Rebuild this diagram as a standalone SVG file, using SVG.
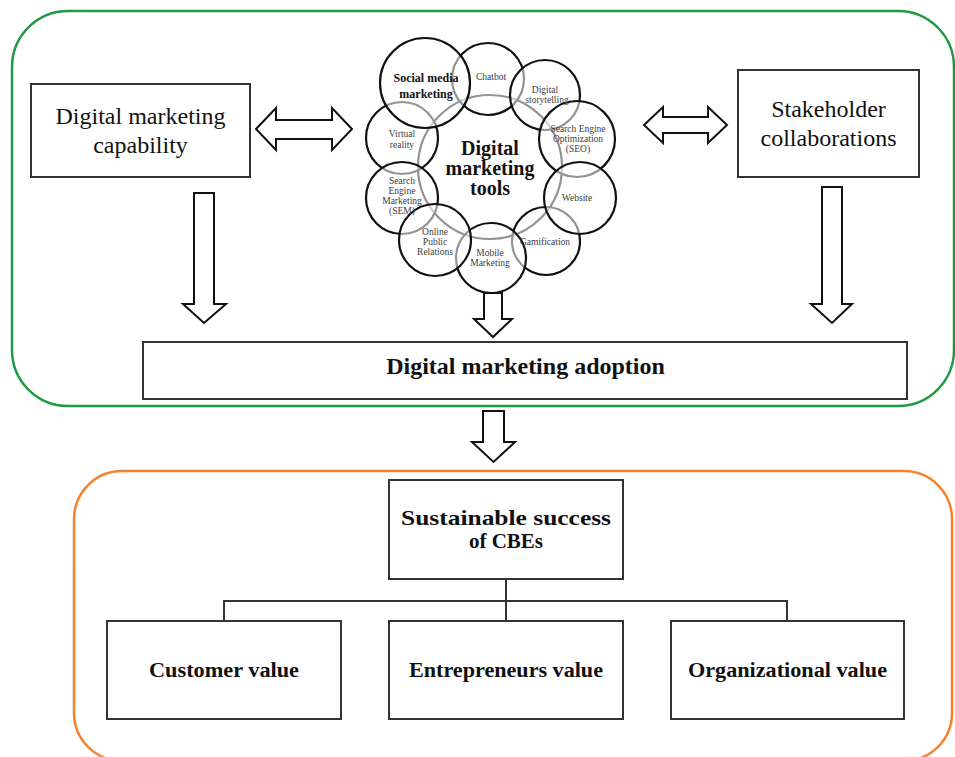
<svg xmlns="http://www.w3.org/2000/svg" width="955" height="757" viewBox="0 0 955 757">
  <style>
    .frame-green { fill: none; stroke: #1f9a40; stroke-width: 2.5; }
    .frame-orange { fill: none; stroke: #f5832e; stroke-width: 2.5; }
    .box { fill: #ffffff; stroke: #333333; stroke-width: 2; }
    .block-arrow { fill: #ffffff; stroke: #111111; stroke-width: 2; stroke-linejoin: miter; }
    .tree { fill: none; stroke: #333333; stroke-width: 2; }
    .label { font-family: "Liberation Serif", "Times New Roman", serif; fill: #111111; text-anchor: middle; }
    .big { font-size: 24px; }
    .bold { font-weight: bold; }
    .tool { fill: #ffffff; fill-opacity: 0.55; stroke: #111111; stroke-width: 2.2; }
    .hub { fill: none; stroke: #111111; stroke-width: 2.2; }
    .tool-text { font-family: "Liberation Serif", "Times New Roman", serif; font-size: 9.5px; fill: #3c3c3c; text-anchor: middle; }
  </style>

  <!-- outer frames -->
  <rect class="frame-green" x="12" y="11" width="942" height="395" rx="56" ry="56"/>
  <rect class="frame-orange" x="74" y="471" width="878" height="290" rx="48" ry="48"/>

  <!-- capability box -->
  <g id="capability">
    <rect class="box" x="31" y="84" width="219" height="93"/>
    <text class="label big" x="140.5" y="124">Digital marketing</text>
    <text class="label big" x="140.5" y="153">capability</text>
  </g>

  <!-- stakeholder box -->
  <g id="stakeholder">
    <rect class="box" x="738" y="70" width="181" height="107"/>
    <text class="label big" x="828.5" y="117">Stakeholder</text>
    <text class="label big" x="828.5" y="146">collaborations</text>
  </g>

  <!-- digital marketing tools cluster -->
  <g id="tools">
    <circle class="hub" cx="490" cy="167" r="72"/>
    <circle class="tool" cx="488" cy="79" r="36"/>
    <circle class="tool" cx="546" cy="241" r="34"/>
    <circle class="tool" cx="402" cy="138" r="36"/>
    <circle class="tool" cx="545" cy="95" r="35"/>
    <circle class="tool" cx="491" cy="258" r="35"/>
    <circle class="tool" cx="402" cy="198" r="36"/>
    <circle class="tool" cx="577" cy="139" r="38"/>
    <circle class="tool" cx="425" cy="83" r="45"/>
    <circle class="tool" cx="580" cy="198" r="36"/>
    <circle class="tool" cx="435" cy="240" r="36"/>

    <text class="label bold" x="490" y="155" font-size="20">Digital</text>
    <text class="label bold" x="490" y="175" font-size="20">marketing</text>
    <text class="label bold" x="490" y="195" font-size="20">tools</text>

    <text class="label bold" x="426" y="82" font-size="12">Social media</text>
    <text class="label bold" x="426" y="98" font-size="12">marketing</text>
    <text class="tool-text" x="491" y="80">Chatbot</text>
    <text class="tool-text" x="545" y="93">Digital</text>
    <text class="tool-text" x="547" y="103">storytelling</text>
    <text class="tool-text" x="578" y="132">Search Engine</text>
    <text class="tool-text" x="578" y="142">Optimization</text>
    <text class="tool-text" x="578" y="152">(SEO)</text>
    <text class="tool-text" x="577" y="201">Website</text>
    <text class="tool-text" x="545" y="245" font-size="8.5">Gamification</text>
    <text class="tool-text" x="490" y="256">Mobile</text>
    <text class="tool-text" x="490" y="266">Marketing</text>
    <text class="tool-text" x="435" y="235">Online</text>
    <text class="tool-text" x="435" y="245">Public</text>
    <text class="tool-text" x="435" y="255">Relations</text>
    <text class="tool-text" x="402" y="184">Search</text>
    <text class="tool-text" x="402" y="194">Engine</text>
    <text class="tool-text" x="402" y="204">Marketing</text>
    <text class="tool-text" x="402" y="214">(SEM)</text>
    <text class="tool-text" x="402" y="137">Virtual</text>
    <text class="tool-text" x="402" y="148">reality</text>
  </g>

  <!-- adoption bar -->
  <g id="adoption">
    <rect class="box" x="143" y="342" width="764" height="57"/>
    <text class="label big bold" x="525.5" y="374">Digital marketing adoption</text>
  </g>

  <!-- sustainable success -->
  <g id="success">
    <rect class="box" x="389" y="480" width="234" height="99"/>
    <text class="label bold" x="506" y="525" font-size="21" textLength="210" lengthAdjust="spacingAndGlyphs">Sustainable success</text>
    <text class="label bold" x="506" y="548" font-size="21">of CBEs</text>
  </g>

  <g id="customer">
    <rect class="box" x="107" y="621" width="234" height="98"/>
    <text class="label bold" x="224" y="677" font-size="20" textLength="150" lengthAdjust="spacingAndGlyphs">Customer value</text>
  </g>

  <g id="entrepreneurs">
    <rect class="box" x="389" y="621" width="234" height="98"/>
    <text class="label bold" x="506" y="677" font-size="20" textLength="194" lengthAdjust="spacingAndGlyphs">Entrepreneurs value</text>
  </g>

  <g id="organizational">
    <rect class="box" x="671" y="621" width="233" height="98"/>
    <text class="label bold" x="787.5" y="677" font-size="20" textLength="199" lengthAdjust="spacingAndGlyphs">Organizational value</text>
  </g>

  <!-- connectors -->
  <g id="connectors">
    <path class="block-arrow" d="M256,129 L276,108 L276,120 L332,120 L332,108 L352,129 L332,150 L332,139 L276,139 L276,150 Z"/>
    <path class="block-arrow" d="M644,125 L663,107 L663,117 L708,117 L708,107 L727,125 L708,143 L708,133 L663,133 L663,143 Z"/>
    <path class="block-arrow" d="M194,193 L214,193 L214,304 L226,304 L204,323 L183,304 L194,304 Z"/>
    <path class="block-arrow" d="M822,187 L842,187 L842,304 L852,304 L832,323 L811,304 L822,304 Z"/>
    <path class="block-arrow" d="M484,293 L502,293 L502,319 L512,319 L493,337 L474,319 L484,319 Z"/>
    <path class="block-arrow" d="M483,411 L504,411 L504,442 L515,442 L493.5,462 L472,442 L483,442 Z"/>
    <path class="tree" d="M506,579 L506,621 M224,621 L224,601 L787,601 L787,621"/>
  </g>
</svg>
